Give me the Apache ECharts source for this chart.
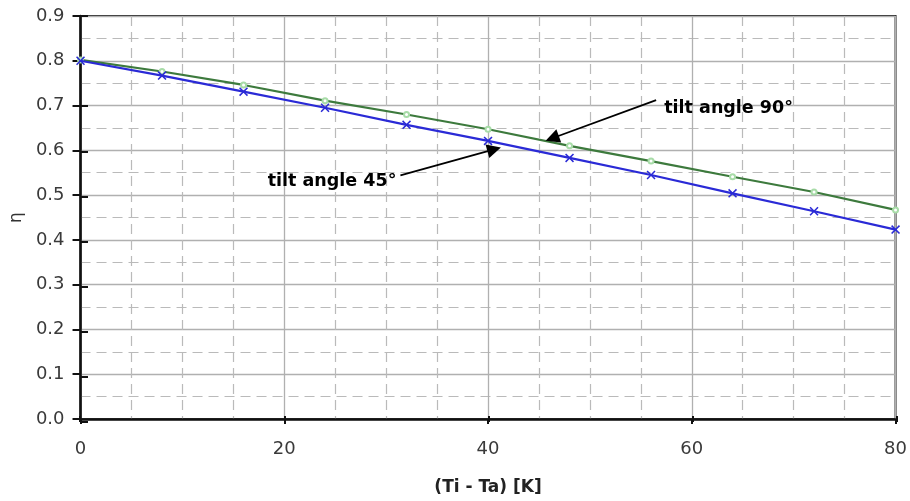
<!DOCTYPE html>
<html>
<head>
<meta charset="utf-8">
<script src="https://cdn.jsdelivr.net/npm/echarts@6/dist/echarts.min.js"></script>
<style>
  html, body { margin: 0; padding: 0; background: #fff; }
  #chart { width: 910px; height: 501px; }
</style>
</head>
<body>
<div id="chart"></div>
<script>
// temperature difference (Ti - Ta) in K
const dT = [0, 8, 16, 24, 32, 40, 48, 56, 64, 72, 80];
// efficiency, tilt angle 45 deg (blue)
const eta45 = [0.800, 0.767, 0.731, 0.695, 0.657, 0.621, 0.583, 0.545, 0.504, 0.464, 0.423];
// efficiency, tilt angle 90 deg (green)
const eta90 = [0.802, 0.776, 0.746, 0.711, 0.680, 0.647, 0.610, 0.576, 0.541, 0.507, 0.467];

const xTicks = [0, 20, 40, 60, 80];
const yTicks = [0.0, 0.1, 0.2, 0.3, 0.4, 0.5, 0.6, 0.7, 0.8, 0.9];

// annotation: [text, text anchor, arrow start, arrow tip]
const note90 = ['tilt angle 90°', [57.1, 0.694], [56.5, 0.712], [46.3, 0.627]];
const note45 = ['tilt angle 45°', [31.2, 0.530], [31.4, 0.544], [40.6, 0.602]];

const crossSymbol = 'path://M0,1.2L1.2,0L5,3.8L8.8,0L10,1.2L6.2,5L10,8.8L8.8,10L5,6.2L1.2,10L0,8.8L3.8,5Z';

const gridPos = { left: 80, right: 13, top: 16, bottom: 79 };
const tickFont = { fontFamily: 'DejaVu Sans', fontSize: 18, color: '#3a3a3a' };
const noteFont = { fontFamily: 'DejaVu Sans', fontWeight: 'bold', fontSize: 17.5, color: '#000' };

function pair(v) { return [v[0], v[1]]; }
function toLine(d) { return d.map(function (v, i) { return [dT[i], v]; }); }

let chart = echarts.init(document.getElementById('chart'), null, { renderer: 'canvas' });

let option = {
  animation: false,
  grid: [
    Object.assign({ show: true, borderColor: '#222', borderWidth: 2, backgroundColor: '#fff' }, gridPos),
    Object.assign({ show: false }, gridPos)
  ],
  xAxis: [
    {
      type: 'value', gridIndex: 0,
      min: xTicks[0], max: xTicks[xTicks.length - 1], interval: 20,
      name: '(Ti - Ta) [K]', nameLocation: 'middle', nameGap: 60,
      nameTextStyle: { fontFamily: 'DejaVu Sans', fontWeight: 'bold', fontSize: 17, color: '#222' },
      axisLine: { show: true, onZero: false, lineStyle: { color: '#111', width: 2.5 } },
      axisTick: { show: true, inside: false, length: 5, lineStyle: { color: '#111', width: 2 } },
      axisLabel: Object.assign({ margin: 21 }, tickFont),
      splitLine: { show: true, lineStyle: { color: '#b0b0b0', width: 1.3 } },
      minorTick: { show: false, splitNumber: 4 },
      minorSplitLine: { show: true, lineStyle: { color: '#bababa', width: 1.2, type: [10, 6] } }
    },
    {
      type: 'value', gridIndex: 1,
      min: xTicks[0], max: xTicks[xTicks.length - 1], interval: 20,
      axisLine: { show: false },
      axisTick: { show: true, inside: true, length: 6, lineStyle: { color: '#111', width: 2 } },
      axisLabel: { show: false },
      splitLine: { show: false }
    }
  ],
  yAxis: [
    {
      type: 'value', gridIndex: 0,
      min: yTicks[0], max: yTicks[yTicks.length - 1], interval: 0.1,
      name: 'η', nameLocation: 'middle', nameGap: 52,
      nameTextStyle: { fontFamily: 'DejaVu Sans', fontSize: 17, color: '#333' },
      axisLine: { show: true, onZero: false, lineStyle: { color: '#111', width: 2.5 } },
      axisTick: { show: true, inside: false, length: 8, lineStyle: { color: '#111', width: 2 } },
      axisLabel: Object.assign({
        margin: 16,
        formatter: function (v) { return v.toFixed(1); }
      }, tickFont),
      splitLine: { show: true, lineStyle: { color: '#b0b0b0', width: 1.3 } },
      minorTick: { show: false, splitNumber: 2 },
      minorSplitLine: { show: true, lineStyle: { color: '#bababa', width: 1.2, type: [10, 6] } }
    },
    {
      type: 'value', gridIndex: 1,
      min: yTicks[0], max: yTicks[yTicks.length - 1], interval: 0.1,
      axisLine: { show: false },
      axisTick: { show: true, inside: true, length: 8, lineStyle: { color: '#111', width: 2 } },
      axisLabel: { show: false },
      splitLine: { show: false }
    }
  ],
  series: [
    {
      name: 'tilt angle 90°',
      type: 'line',
      xAxisIndex: 0, yAxisIndex: 0,
      data: toLine(eta90),
      symbol: 'emptyCircle',
      symbolSize: 5,
      lineStyle: { color: '#3d7a3d', width: 2.2 },
      itemStyle: { color: '#a8dca8', borderColor: '#a8dca8', borderWidth: 1 },
      z: 3,
      markLine: {
        silent: true,
        symbol: ['none', 'triangle'],
        symbolSize: 14,
        lineStyle: { color: '#000', width: 1.8, type: 'solid' },
        label: { show: false },
        data: [[{ coord: pair(note90[2]) }, { coord: pair(note90[3]) }]]
      },
      markPoint: {
        silent: true,
        symbol: 'circle', symbolSize: 0,
        label: Object.assign({ show: true, position: 'right', distance: 2, formatter: note90[0] }, noteFont),
        data: [{ coord: pair(note90[1]) }]
      }
    },
    {
      name: 'tilt angle 45°',
      type: 'line',
      xAxisIndex: 0, yAxisIndex: 0,
      data: toLine(eta45),
      symbol: crossSymbol,
      symbolSize: 9,
      lineStyle: { color: '#2a2ad6', width: 2.2 },
      itemStyle: { color: '#2a2ad6' },
      z: 4,
      markLine: {
        silent: true,
        symbol: ['none', 'triangle'],
        symbolSize: 14,
        lineStyle: { color: '#000', width: 1.8, type: 'solid' },
        label: { show: false },
        data: [[{ coord: pair(note45[2]) }, { coord: pair(note45[3]) }]]
      },
      markPoint: {
        silent: true,
        symbol: 'circle', symbolSize: 0,
        label: Object.assign({ show: true, position: 'left', distance: 2, formatter: note45[0] }, noteFont),
        data: [{ coord: pair(note45[1]) }]
      }
    }
  ]
};

chart.setOption(option);
</script>
</body>
</html>
